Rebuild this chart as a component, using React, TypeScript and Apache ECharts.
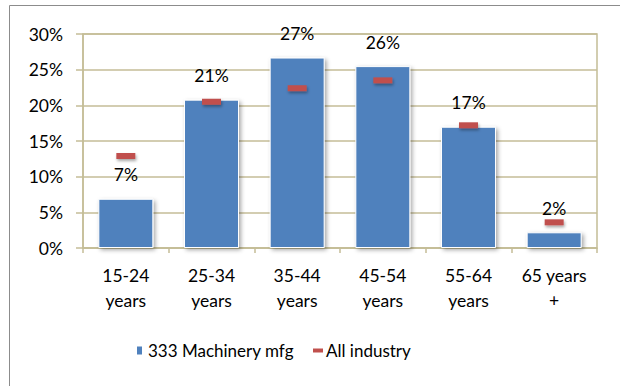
import React, { useEffect, useRef } from "react";
import * as echarts from "echarts";

// Age bands and shares of employment (percent)
const ageGroups = ["15-24\nyears", "25-34\nyears", "35-44\nyears", "45-54\nyears", "55-64\nyears", "65 years\n+"];
const machineryShare = [6.9, 20.8, 26.7, 25.5, 17.0, 2.2];
const allIndustryShare = [12.9, 20.5, 22.4, 23.5, 17.2, 3.6];
const yTicks = { min: 0, max: 30, interval: 5 };

const FONT = "Lato";
const FS = 17.5;
const LEGEND_FS = 17;
const GRID_COLOR = "#C4BD97";

export default function App() {
  const ref = useRef<HTMLDivElement>(null);

  useEffect(() => {
    if (!ref.current) return;
    const chart = echarts.init(ref.current, undefined, { renderer: "svg" });
    chart.setOption({
      animation: false,
      backgroundColor: "#fff",
      textStyle: { fontFamily: FONT, color: "#000" },
      graphic: [
        {
          type: "rect",
          shape: { x: 9.5, y: 5.5, width: 700, height: 500 },
          style: { fill: "none", stroke: "#8C8C8C", lineWidth: 1 },
          silent: true,
        },
      ],
      grid: {
        left: 83,
        right: 23,
        top: 34,
        bottom: 138,
        show: true,
        borderColor: GRID_COLOR,
        borderWidth: 1.5,
      },
      legend: [
        {
          data: [{ name: "333 Machinery mfg", icon: "rect" }],
          left: 135,
          top: 342,
          padding: 0,
          itemWidth: 7,
          itemHeight: 10,
          textStyle: { fontFamily: FONT, fontSize: LEGEND_FS, color: "#000" },
        },
        {
          data: [{ name: "All industry", icon: "rect" }],
          left: 313,
          top: 342,
          padding: 0,
          itemWidth: 10,
          itemHeight: 4,
          textStyle: { fontFamily: FONT, fontSize: LEGEND_FS, color: "#000", padding: [0, 0, 0, -2] },
        },
      ],
      xAxis: {
        type: "category",
        data: ageGroups,
        boundaryGap: true,
        axisLine: { show: true, lineStyle: { color: GRID_COLOR, width: 1.5 } },
        axisTick: { show: true, length: 5, lineStyle: { color: GRID_COLOR, width: 1.5 } },
        axisLabel: {
          margin: 15,
          fontFamily: FONT,
          fontSize: FS,
          lineHeight: 25,
          color: "#000",
          interval: 0,
        },
      },
      yAxis: {
        type: "value",
        min: yTicks.min,
        max: yTicks.max,
        interval: yTicks.interval,
        axisLine: { show: true, lineStyle: { color: GRID_COLOR, width: 1.5 } },
        axisTick: { show: true, length: 7, lineStyle: { color: GRID_COLOR, width: 1.5 } },
        splitLine: { show: true, lineStyle: { color: GRID_COLOR, width: 1.5 } },
        axisLabel: {
          formatter: "{value}%",
          margin: 20,
          fontFamily: FONT,
          fontSize: FS,
          color: "#000",
        },
      },
      series: [
        {
          name: "333 Machinery mfg",
          type: "bar",
          data: machineryShare,
          barWidth: 55,
          itemStyle: {
            color: "#4F81BD",
            borderColor: "#fff",
            borderWidth: 1,
            shadowColor: "rgba(0,0,0,0.35)",
            shadowBlur: 4,
            shadowOffsetX: 2,
            shadowOffsetY: 2,
          },
          label: {
            show: true,
            position: "top",
            distance: 15,
            fontFamily: FONT,
            fontSize: FS,
            color: "#000",
            formatter: (p: any) => `${Math.round(p.value)}%`,
          },
          z: 2,
        },
        {
          name: "All industry",
          type: "scatter",
          data: allIndustryShare,
          symbol: "rect",
          symbolSize: [19, 6],
          itemStyle: {
            color: "#C0504D",
            opacity: 1,
            shadowColor: "rgba(0,0,0,0.35)",
            shadowBlur: 3,
            shadowOffsetX: 1,
            shadowOffsetY: 2,
          },
          z: 3,
        },
      ],
    });
    return () => chart.dispose();
  }, []);

  return (
    <div
      ref={ref}
      style={{ position: "fixed", left: 0, top: 0, width: 620, height: 386 }}
    />
  );
}
